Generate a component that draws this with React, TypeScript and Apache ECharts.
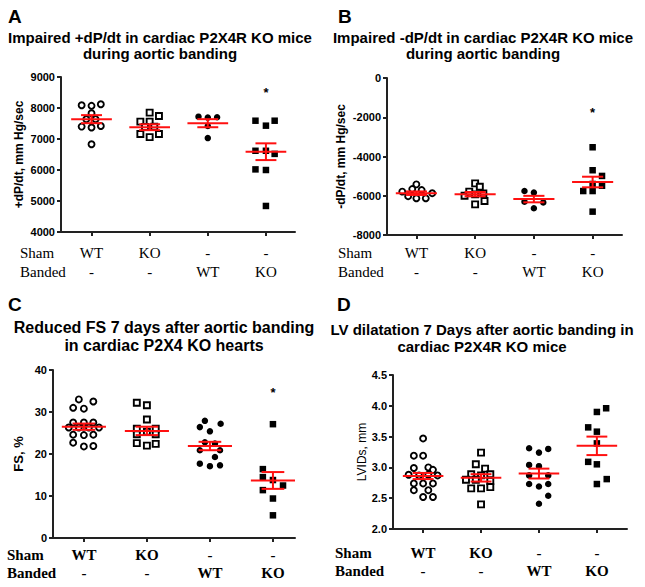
import React, { useEffect, useRef } from 'react';
import * as echarts from 'echarts';

// ---------- tick labels ----------
const shamRow = ['WT', 'KO', '-', '-'];
const bandedRow = ['-', '-', 'WT', 'KO'];
const groupTicks = [0, 1, 2, 3];

// ---------- Panel A: +dP/dt (mm Hg/sec), points as [jitter, value] ----------
const aShamWT = [[-0.17, 8090], [0, 8070], [0.16, 8120], [0, 7830], [-0.09, 7640], [0.07, 7640], [-0.17, 7400], [0, 7370], [0.16, 7420], [0, 6830]];
const aShamKO = [[0, 7850], [0.16, 7740], [-0.16, 7560], [0, 7560], [-0.08, 7390], [0.08, 7400], [-0.16, 7160], [0, 7060], [0.16, 7160]];
const aBandWT = [[-0.16, 7720], [0, 7690], [0.16, 7700], [0, 7420], [0, 7030]];
const aBandKO = [[-0.18, 7590], [0.15, 7590], [0, 7430], [-0.18, 6620], [0, 6620], [0.15, 6520], [-0.18, 6020], [0, 6000], [0, 4840]];
const aMean = [7640, 7380, 7510, 6590];
const aSem = [130, 95, 130, 270];
const aStar = [[3, 8600]];

// ---------- Panel B: -dP/dt (mm Hg/sec) ----------
const bShamWT = [[-0.24, -5790], [0, -5420], [-0.07, -5660], [0.09, -5710], [-0.14, -6020], [0, -6130], [0.16, -6130], [0.27, -5870]];
const bShamKO = [[0, -5370], [0.08, -5540], [-0.18, -6000], [0, -5930], [0.14, -5880], [0, -6440], [0.16, -6270], [-0.1, -5790]];
const bBandWT = [[-0.16, -5760], [0, -5840], [-0.16, -6300], [0.16, -6340], [0, -6640]];
const bBandKO = [[0, -3530], [0, -4700], [0.16, -4990], [0.16, -5490], [0, -5400], [-0.16, -5760], [0, -5760], [0, -6810]];
const bMean = [-5870, -5920, -6170, -5300];
const bSem = [90, 110, 165, 270];
const bStar = [[3, -1580]];

// ---------- Panel C: FS, % ----------
const cShamWT = [[-0.08, 33.0], [0.15, 32.5], [-0.17, 31.0], [0, 30.8], [-0.17, 27.5], [0, 27.5], [0.15, 27.5], [-0.24, 26.3], [-0.08, 26.3], [0.08, 26.3], [0.24, 26.3], [-0.17, 24.6], [0, 24.5], [0.15, 24.6], [-0.17, 22.7], [0, 21.8], [0.15, 21.9]];
const cShamKO = [[-0.16, 32.2], [0, 31.6], [0, 28.2], [-0.16, 26.0], [0.14, 26.0], [0, 25.3], [-0.16, 24.7], [0.14, 24.7], [-0.16, 22.6], [0, 22.0], [0.14, 22.4]];
const cBandWT = [[-0.08, 27.9], [0.17, 27.2], [-0.16, 26.4], [0, 25.4], [-0.08, 22.8], [0.08, 22.5], [-0.16, 20.9], [0.16, 20.9], [0.08, 19.3], [-0.16, 17.7], [0, 17.1], [0.16, 17.3]];
const cBandKO = [[0, 27.1], [-0.16, 16.4], [-0.16, 14.5], [0, 13.8], [0.16, 12.5], [-0.16, 11.4], [0, 9.4], [0, 5.4]];
const cMean = [26.5, 25.5, 21.9, 13.7];
const cSem = [0.75, 1.0, 1.0, 2.0];
const cStar = [[3, 35.4]];

// ---------- Panel D: LVIDs, mm ----------
const dShamWT = [[0, 3.47], [-0.16, 3.19], [0, 3.19], [-0.16, 2.99], [0.09, 3.0], [0.17, 2.96], [-0.25, 2.88], [-0.07, 2.87], [0.09, 2.88], [0.25, 2.87], [-0.16, 2.74], [0, 2.74], [0.17, 2.74], [-0.16, 2.63], [0.09, 2.63], [0, 2.52], [0.17, 2.52]];
const dShamKO = [[0, 3.24], [-0.09, 3.05], [0.07, 2.98], [-0.17, 2.89], [0, 2.87], [0.16, 2.89], [-0.26, 2.8], [-0.09, 2.8], [0.16, 2.78], [-0.17, 2.66], [0, 2.66], [0.16, 2.68], [0, 2.4]];
const dBandWT = [[-0.17, 3.31], [0.16, 3.3], [0, 3.24], [-0.17, 3.04], [0, 3.02], [-0.17, 2.87], [0.16, 2.87], [-0.17, 2.73], [0, 2.69], [0.16, 2.73], [0.16, 2.54], [0, 2.41]];
const dBandKO = [[0, 3.9], [0.16, 3.96], [-0.15, 3.65], [0, 3.58], [0, 3.39], [-0.15, 3.09], [0, 3.05], [0.17, 2.81], [0, 2.73]];
const dMean = [2.86, 2.83, 2.9, 3.35];
const dSem = [0.05, 0.06, 0.08, 0.15];
const dStar: number[][] = [];

// ---------- axis ranges ----------
const yMins = [4000, -8000, 0, 2.0];
const yMaxs = [9000, 0, 40, 4.5];
const yIntervals = [1000, 2000, 10, 0.5];
const yNames = ['+dP/dt, mm Hg/sec', '-dP/dt, mm Hg/sec', 'FS, %', 'LVIDs, mm'];
const titles = [
  'Impaired +dP/dt in cardiac P2X4R KO mice\nduring aortic banding',
  'Impaired -dP/dt in cardiac P2X4R KO mice\nduring aortic banding',
  'Reduced FS 7 days after aortic banding\nin cardiac P2X4 KO hearts',
  'LV dilatation 7 Days after aortic banding in\ncardiac P2X4R KO mice',
];
const letters = ['A', 'B', 'C', 'D'];

const panels = [
  { groups: [aShamWT, aShamKO, aBandWT, aBandKO], means: aMean, sems: aSem, star: aStar },
  { groups: [bShamWT, bShamKO, bBandWT, bBandKO], means: bMean, sems: bSem, star: bStar },
  { groups: [cShamWT, cShamKO, cBandWT, cBandKO], means: cMean, sems: cSem, star: cStar },
  { groups: [dShamWT, dShamKO, dBandWT, dBandKO], means: dMean, sems: dSem, star: dStar },
];

// ---------- layout (pixels) ----------
const layouts = [
  { left: 61, top: 77, width: 234, height: 155, xMin: -0.525, xMax: 3.5, lblMargin: 11, lblLH: 19, nameGap: 36, nameSize: 12, nameBold: true, serifBold: false, rowX: 20, rowY: 253, titleX: 160, titleY: 45.5, titleSize: 15, titleLH: 16, letterX: 8, letterY: 16 },
  { left: 387, top: 78, width: 235, height: 157, xMin: -0.5, xMax: 3.5, lblMargin: 8, lblLH: 19, nameGap: 40, nameSize: 12, nameBold: true, serifBold: false, rowX: 338, rowY: 253, titleX: 483, titleY: 45.5, titleSize: 15, titleLH: 16, letterX: 338, letterY: 16 },
  { left: 53, top: 370, width: 242, height: 168, xMin: -0.49, xMax: 3.35, lblMargin: 8, lblLH: 18, nameGap: 28, nameSize: 13, nameBold: true, serifBold: true, rowX: 7, rowY: 555, titleX: 164, titleY: 336, titleSize: 16, titleLH: 18, letterX: 8, letterY: 304 },
  { left: 393, top: 375, width: 234, height: 154, xMin: -0.52, xMax: 3.52, lblMargin: 15, lblLH: 18, nameGap: 19, nameSize: 12, nameBold: false, serifBold: true, rowX: 335, rowY: 553, titleX: 482, titleY: 337.5, titleSize: 15, titleLH: 17, letterX: 337, letterY: 304 },
];

const SANS = 'Liberation Sans';
const SERIF = 'Liberation Serif';
const AXIS = '#222';
const RED = '#ff1010';

const markers = [
  { symbol: 'circle', open: true },
  { symbol: 'rect', open: true },
  { symbol: 'circle', open: false },
  { symbol: 'rect', open: false },
];

function buildOption() {
  const grid: any[] = [];
  const xAxis: any[] = [];
  const yAxis: any[] = [];
  const series: any[] = [];
  const graphic: any[] = [];

  layouts.forEach((L, k) => {
    grid.push({ left: L.left, top: L.top, width: L.width, height: L.height, containLabel: false });
    xAxis.push({
      type: 'value', gridIndex: k, min: L.xMin, max: L.xMax,
      splitLine: { show: false },
      axisLine: { show: true, onZero: false, lineStyle: { color: AXIS, width: 2 } },
      axisTick: { show: true, length: 4, customValues: groupTicks, lineStyle: { color: AXIS, width: 2 } },
      axisLabel: {
        show: true, customValues: groupTicks, margin: L.lblMargin,
        formatter: (v: number) => { const i = Math.round(v); return shamRow[i] + '\n' + bandedRow[i]; },
        fontFamily: SERIF, fontSize: 15, fontWeight: L.serifBold ? 'bold' : 'normal', color: '#000', lineHeight: L.lblLH,
      },
    });
    yAxis.push({
      type: 'value', gridIndex: k, min: yMins[k], max: yMaxs[k], interval: yIntervals[k],
      splitLine: { show: false },
      axisLine: { show: true, onZero: false, lineStyle: { color: AXIS, width: 2 } },
      axisTick: { show: true, length: 4, lineStyle: { color: AXIS, width: 2 } },
      axisLabel: {
        margin: 6, fontFamily: SANS, fontSize: 11, fontWeight: 'bold', color: '#000',
        formatter: (v: number) => (k === 3 ? v.toFixed(1) : String(v)),
      },
      name: yNames[k], nameLocation: 'middle', nameGap: L.nameGap,
      nameTextStyle: { fontFamily: SANS, fontSize: L.nameSize, fontWeight: L.nameBold ? 'bold' : 'normal', color: '#000' },
    });

    const P = panels[k];
    P.groups.forEach((pts, g) => {
      const m = markers[g];
      series.push({
        type: 'scatter', xAxisIndex: k, yAxisIndex: k,
        symbol: m.symbol, symbolSize: m.open ? 6 : 6.5,
        itemStyle: m.open
          ? { color: '#fff', borderColor: '#000', borderWidth: 1.9, opacity: 1 }
          : { color: '#000', borderWidth: 0, opacity: 1 },
        data: pts.map(([j, v]) => [g + j, v]),
        silent: true,
      });
    });

    series.push({
      type: 'custom', xAxisIndex: k, yAxisIndex: k, z: 5, silent: true,
      data: P.means.map((mv, i) => [i, mv, P.sems[i]]),
      renderItem: (_params: any, api: any) => {
        const x = api.value(0) as number;
        const mv = api.value(1) as number;
        const s = api.value(2) as number;
        const seg = (x1: number, y1: number, x2: number, y2: number) => {
          const p = api.coord([x1, y1]);
          const q = api.coord([x2, y2]);
          return { type: 'line', shape: { x1: p[0], y1: p[1], x2: q[0], y2: q[1] }, style: { stroke: RED, lineWidth: 2 } };
        };
        return {
          type: 'group',
          children: [
            seg(x - 0.35, mv, x + 0.35, mv),
            seg(x, mv - s, x, mv + s),
            seg(x - 0.18, mv + s, x + 0.18, mv + s),
            seg(x - 0.18, mv - s, x + 0.18, mv - s),
          ],
        };
      },
    });

    if (P.star.length) {
      series.push({
        type: 'custom', xAxisIndex: k, yAxisIndex: k, z: 6, silent: true,
        data: P.star,
        renderItem: (_params: any, api: any) => {
          const p = api.coord([api.value(0), api.value(1)]);
          return {
            type: 'text', x: p[0], y: p[1] + 3,
            style: { text: '*', fill: '#000', font: `bold 13px ${SANS}`, textAlign: 'center', textVerticalAlign: 'middle' },
          };
        },
      });
    }

    graphic.push({
      type: 'text', x: L.letterX, y: L.letterY,
      style: { text: letters[k], fill: '#000', font: `bold 19px ${SANS}`, textAlign: 'left', textVerticalAlign: 'middle' },
    });
    graphic.push({
      type: 'text', x: L.titleX, y: L.titleY,
      style: { text: titles[k], fill: '#000', font: `bold ${L.titleSize}px ${SANS}`, lineHeight: L.titleLH, textAlign: 'center', textVerticalAlign: 'middle' },
    });
    graphic.push({
      type: 'text', x: L.rowX, y: L.rowY,
      style: { text: 'Sham', fill: '#000', font: `${L.serifBold ? 'bold ' : ''}15px ${SERIF}`, textAlign: 'left', textVerticalAlign: 'middle' },
    });
    graphic.push({
      type: 'text', x: L.rowX, y: L.rowY + L.lblLH,
      style: { text: 'Banded', fill: '#000', font: `${L.serifBold ? 'bold ' : ''}15px ${SERIF}`, textAlign: 'left', textVerticalAlign: 'middle' },
    });
  });

  return {
    animation: false,
    backgroundColor: '#fff',
    grid, xAxis, yAxis, series, graphic,
  };
}

export default function App() {
  const ref = useRef<HTMLDivElement>(null);
  useEffect(() => {
    if (!ref.current) return;
    const chart = echarts.init(ref.current, undefined, { renderer: 'svg' });
    chart.setOption(buildOption() as any);
    return () => chart.dispose();
  }, []);
  return (
    <div
      ref={ref}
      style={{ position: 'absolute', left: 0, top: 0, width: 645, height: 587, background: '#fff' }}
    />
  );
}
